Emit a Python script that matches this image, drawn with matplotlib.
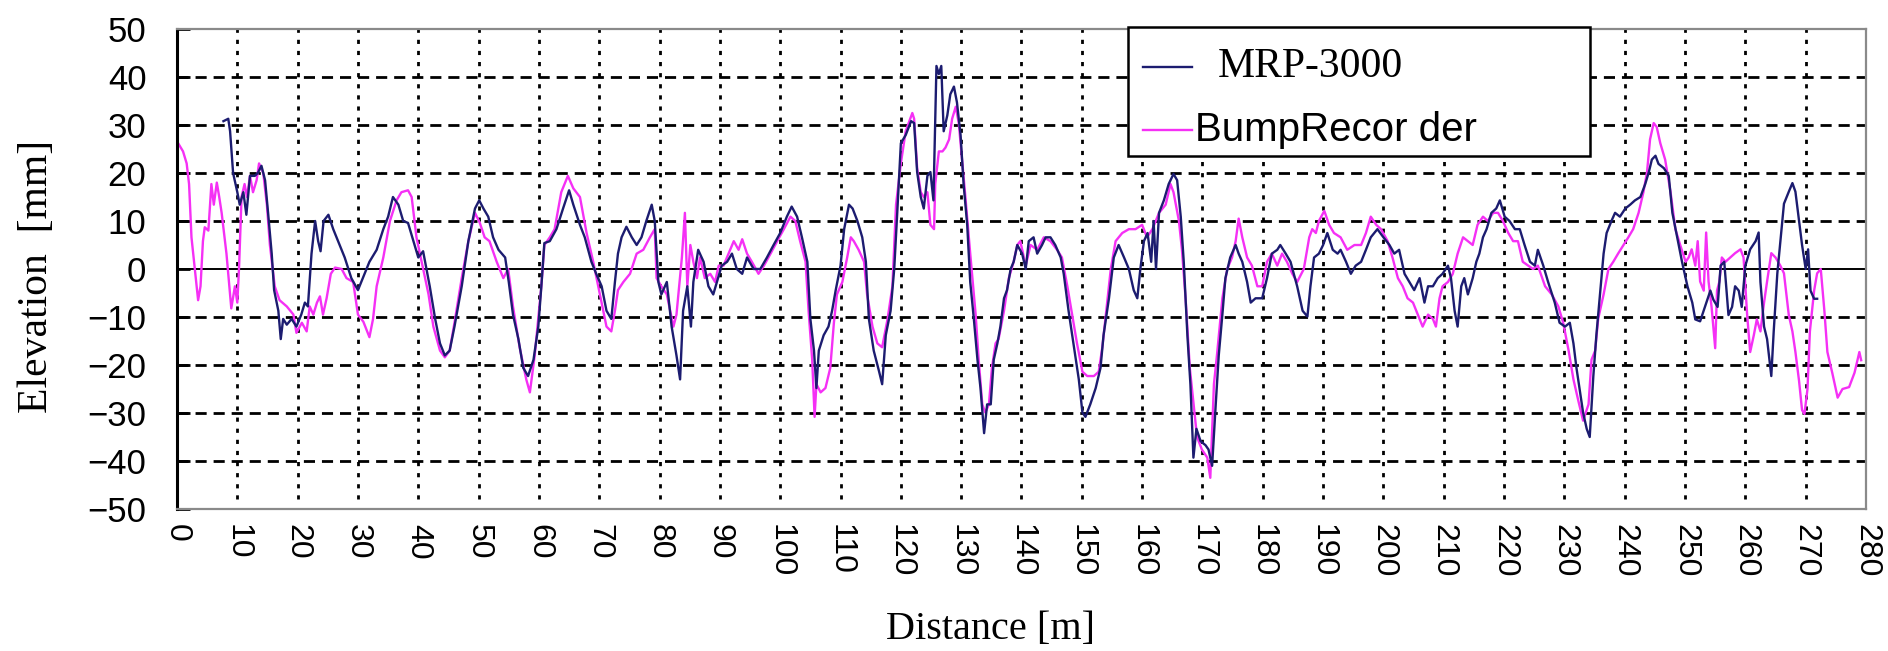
import numpy as np
import matplotlib
matplotlib.use("Agg")
import matplotlib.pyplot as plt
from matplotlib.patches import Rectangle

# %%
# data: distance [m], elevation [mm]

mrp_x = [7.7, 8.5, 8.8, 9.3, 10, 10.4, 11, 11.5, 12.1, 12.9, 13.4, 14, 14.6, 15.1, 15.7, 16.1, 16.8, 17.2, 17.6, 18.2,
         19, 19.8, 20.6, 21.2, 21.7, 22.3, 22.9, 23.4, 23.8, 24.3, 25.1, 25.9, 26.7, 27.8, 28.9, 30, 30.8, 31.9, 33.1, 34.2,
         35, 35.8, 36.7, 37.5, 38.3, 39.2, 40, 40.8, 41.9, 42.8, 43.6, 44.4, 45.2, 46, 47.2, 48.3, 49.4, 50.1, 50.8, 51.6,
         52.4, 53.3, 54.4, 55, 55.7, 56.6, 57.4, 58.2, 59.1, 59.9, 60.4, 60.9, 61.8, 62.9, 64, 65, 65.7, 66.8, 67.6, 68.7,
         69.5, 70.4, 71.2, 72, 72.6, 73.1, 73.7, 74.5, 75.4, 76.2, 77, 77.8, 78.7, 79.2, 79.8, 80.3, 81.2, 82, 82.8, 83.4,
         83.9, 84.6, 85.2, 85.6, 86.4, 87.3, 88.1, 88.9, 89.5, 90.3, 91.2, 92, 92.8, 93.7, 94.5, 95.6, 96.7, 97.8, 98.9, 100,
         101.1, 101.9, 102.8, 103.6, 104.5, 105, 105.6, 106, 106.4, 107.2, 108, 108.6, 109.2, 110, 110.6, 111.4, 112, 112.8, 113.6, 114.2,
         114.7, 115.5, 116.4, 116.9, 117.5, 118.3, 118.9, 119.4, 120, 120.8, 121.7, 122.2, 122.7, 123.3, 123.8, 124.4, 124.9, 125.4, 125.9, 126.3,
         126.7, 127.1, 127.7, 128.2, 128.8, 129.3, 129.9, 130.4, 131, 131.5, 132.1, 132.7, 133.2, 133.8, 134.3, 134.9, 135.4, 136, 136.5, 137.1,
         137.6, 138.2, 138.7, 139.3, 140.1, 140.7, 141.2, 142, 142.6, 143.4, 144, 144.8, 145.6, 146.5, 147, 147.8, 148.7, 149.5, 150.1, 150.6,
         151.4, 152.3, 153.1, 153.6, 154.5, 155.3, 156.1, 157, 157.8, 158.6, 159.2, 159.7, 160.3, 160.9, 161.5, 161.9, 162.3, 162.8, 163.6, 164.4,
         165.2, 165.8, 166.4, 166.9, 167.5, 168, 168.5, 169, 169.7, 170.5, 171, 171.6, 172.2, 172.7, 173.3, 173.8, 174.6, 175.5, 176, 176.6,
         177.4, 178, 178.8, 179.9, 180.7, 181.5, 182.4, 182.9, 183.8, 184.6, 185.7, 186.6, 187.4, 187.9, 188.5, 189.3, 190, 190.7, 191.6, 192.4,
         192.9, 193.8, 194.6, 195.4, 196.3, 197.1, 197.9, 199, 200, 201, 201.8, 202.6, 203.5, 204.3, 205.1, 206, 206.8, 207.4, 208.2, 209,
         209.8, 210.7, 211.2, 211.8, 212.3, 212.9, 213.4, 214, 214.8, 215.4, 215.9, 216.5, 217.1, 217.9, 218.7, 219.3, 220.1, 220.9, 221.8, 222.6,
         223.4, 224.3, 225.1, 225.6, 226.5, 227.3, 228.4, 229.2, 230.1, 230.9, 231.5, 232, 232.6, 233.1, 233.7, 234.2, 234.8, 235.3, 235.9, 236.5,
         237, 237.8, 238.4, 239.2, 240.1, 240.9, 241.7, 242.6, 243.4, 244, 244.5, 245.1, 245.6, 246.5, 247.3, 247.9, 248.7, 249.5, 250.4, 251.2,
         251.7, 252.5, 253.3, 254.2, 254.7, 255.4, 255.9, 256.5, 257.2, 257.8, 258.3, 258.9, 259.4, 260, 260.8, 261.7, 262.2, 262.5, 263.1, 263.6,
         264.3, 264.7, 265.3, 265.8, 266.4, 267.2, 267.8, 268.3, 268.9, 269.4, 270, 270.4, 270.8, 271.4, 271.9]
mrp_y = [30.8, 31.3, 28.7, 20, 16, 13.4, 16, 11.3, 19.4, 19.4, 20, 21.5, 18.5, 11.7, 3.2, -4.4, -8.7, -14.6, -10.4, -11.6,
         -10.4, -12, -9.5, -7, -7.8, 3.2, 10, 5.8, 3.7, 10, 11.3, 8.3, 5.8, 2.4, -1.9, -4.4, -1.9, 1.5, 4, 8.3,
         10.9, 15, 13.4, 10, 9.6, 5.8, 2.4, 3.7, -3.6, -10.4, -15.5, -18, -17, -12, -3.6, 5.8, 12.6, 14.3, 12.6, 10.9,
         6.6, 4, 2.4, -2.7, -9.5, -14.6, -20.6, -22.3, -18.9, -12, -3.6, 5.4, 5.8, 8.3, 12.6, 16.4, 13.4, 9.2, 6.6, 1.5,
         -1, -3.6, -8.7, -10.4, -2.7, 3.2, 6.6, 8.8, 6.6, 5, 6.6, 10, 13.4, 10, -2.7, -5.3, -2.7, -12, -18, -23,
         -8.7, -3.6, -12, -2.7, 4, 1.5, -3.6, -5.3, -2.7, 0.7, 1.5, 3.2, 0, -1, 2.4, 0, 0, 2.4, 5, 7.5,
         10.9, 13, 10.9, 6.6, 1.5, -10.4, -17, -24.8, -17, -13.8, -12, -8.7, -4.4, 0.7, 8.3, 13.4, 12.6, 10, 6.6, 1.5,
         -10.4, -17, -21.4, -24, -13.8, -8.7, 0, 11.7, 26.2, 27.9, 30.8, 30.4, 20.2, 15, 12.6, 19.4, 20.2, 14.3, 42.3, 40.6,
         42.3, 28.7, 32, 36.4, 38, 34.7, 27.9, 17.7, 9.2, -2.7, -10.4, -18.9, -24.8, -34.2, -28.2, -28.2, -18.9, -15.5, -12, -6.1,
         -4.4, 0, 1.5, 5, 3.2, 0, 5.8, 6.6, 3.2, 5, 6.6, 6.6, 5, 2.4, -1, -8.7, -16.3, -23, -29.9, -30.8,
         -28.2, -24.8, -20.6, -13.8, -6.1, 2.4, 5, 2.4, 0, -4.4, -6.1, 0, 5.8, 7.5, 1.5, 10, 0, 11.7, 14.3, 17.7,
         19.8, 18.5, 10.9, 1.5, -13.8, -24, -39.3, -33.3, -35.9, -36.7, -37.6, -41, -28.2, -18, -9.5, -1.9, 2.4, 5, 3.2, 1.5,
         -2.7, -7, -6.1, -6.1, -1.9, 3.2, 4, 5, 3.2, 1.5, -3.6, -8.7, -9.9, -3.6, 2.4, 3.2, 5, 7.5, 4, 3.2,
         4, 1.5, -1, 0.7, 1.5, 4, 6.6, 8.3, 6.6, 5, 3.2, 4, -1, -2.7, -4.4, -1.9, -7, -3.6, -3.6, -1.9,
         -1, 0.7, -1.9, -8.7, -12, -3.6, -1.9, -5.3, -1.9, 1.5, 3.2, 6.6, 8.3, 11.7, 12.6, 14.3, 10.9, 10, 8.3, 8.3,
         5, 1.5, 0.7, 4, 0.7, -2.7, -7, -11.2, -12, -11.2, -15.5, -20.6, -25.7, -29.9, -33.3, -35, -22.3, -13.8, -5.3, 3.2,
         7.5, 10, 11.7, 10.9, 12.6, 13.4, 14.3, 15, 17.7, 20.2, 22.8, 23.6, 21.9, 21, 19.4, 11.7, 6.6, 1.5, -3.6, -7,
         -10.5, -10.9, -7.9, -4.5, -6.4, -7.9, 0.7, 1.5, -9.6, -7.9, -3.6, -4.5, -7.9, 0.7, 4.1, 5.8, 7.6, -2.7, -12, -14.6,
         -22.3, -13, -0.9, 5.8, 13.6, 16.1, 17.9, 16.1, 10.1, 5, 0, 4.1, -4.5, -6.2, -6.2]

bump_x = [0, 1, 1.6, 2, 2.4, 2.7, 3.5, 3.9, 4.3, 4.6, 5.2, 5.7, 6.1, 6.6, 7, 7.4, 8.2, 9, 9.6, 10,
          10.3, 10.7, 11.2, 11.6, 12.1, 12.6, 13.2, 13.6, 14.3, 14.9, 15.4, 16.2, 17, 18.2, 19.3, 19.8, 20.7, 21.5, 22, 22.6,
          23.2, 23.7, 24.2, 24.8, 25.5, 26.2, 27.3, 28.1, 29.2, 30, 30.9, 31.9, 32.5, 33.1, 34.2, 35.3, 36.4, 37.2, 38.3, 38.9,
          39.7, 40.8, 41.7, 42.5, 43.6, 44.4, 45.2, 46, 47.2, 48.3, 49.4, 50.2, 51, 51.8, 53, 54.1, 54.9, 55.7, 56.8, 57.9,
          58.5, 59.3, 60.4, 60.9, 61.8, 62.6, 63.7, 64.8, 65.7, 66.8, 67.9, 69, 70.1, 71.2, 72, 72.6, 73.1, 74, 75.1, 76.2,
          77.3, 78.4, 79.2, 79.5, 80.3, 81.2, 82.3, 82.8, 83.7, 84.2, 84.6, 85.1, 85.6, 86.2, 86.7, 87.5, 88.4, 89.2, 89.8, 90.6,
          91.7, 92.3, 93.1, 93.7, 94.5, 95.3, 96.4, 97.3, 98.4, 99.5, 100.6, 101.7, 102.5, 103.3, 104.2, 104.7, 105.3, 105.7, 106, 106.7,
          107.5, 108.3, 108.9, 109.4, 110.3, 111.1, 111.7, 112.2, 113, 113.9, 114.4, 115.3, 116.1, 116.9, 117.8, 118.6, 119.2, 120, 120.8, 121.9,
          122.2, 122.7, 123.3, 123.8, 124.4, 124.9, 125.5, 125.7, 126.3, 126.9, 127.4, 128, 128.5, 129.1, 129.6, 130.2, 130.7, 131.5, 132.4, 132.9,
          133.5, 134, 134.6, 135.1, 135.7, 136.2, 137.1, 137.9, 138.7, 139.3, 139.8, 140.7, 141.5, 142.6, 143.7, 144.8, 145.9, 146.7, 147.6, 148.4,
          149.2, 150.1, 150.9, 152, 152.8, 153.4, 154.2, 154.8, 155.6, 156.7, 157.8, 158.9, 160, 160.8, 161.7, 162.8, 163.9, 164.7, 165.2, 166.1,
          166.6, 167.2, 167.9, 168.6, 169.1, 169.9, 170.8, 171.3, 171.9, 172.4, 173.3, 174.1, 174.9, 175.5, 176, 176.6, 177.4, 178.2, 179.1, 179.9,
          180.7, 181.5, 182.4, 183.2, 184, 184.9, 185.7, 186.8, 187.7, 188.2, 188.8, 189.3, 190.2, 191, 191.8, 192.9, 194, 195.2, 196.3, 197.1,
          197.9, 198.8, 199.6, 200.7, 201.5, 202.4, 203.2, 204, 204.9, 205.7, 206.5, 207.4, 208.2, 208.7, 209.3, 209.8, 210.7, 211.5, 212.3, 213.2,
          214, 214.8, 215.6, 216.5, 217.3, 218.2, 219, 219.8, 220.7, 221.5, 222.3, 223.1, 224, 224.8, 225.6, 226.8, 227.9, 229, 229.8, 230.7,
          231.5, 232.3, 233.1, 234, 234.5, 235.1, 235.6, 236.5, 237.3, 238.1, 238.9, 239.8, 240.6, 241.4, 242.3, 243.1, 243.7, 244.2, 244.8, 245.3,
          245.9, 246.7, 247.6, 248.4, 249.2, 250.1, 250.6, 251.1, 251.7, 252.1, 252.5, 253.1, 253.5, 253.9, 254.4, 255, 255.3, 255.7, 256.1, 256.7,
          257.5, 258.3, 259.2, 259.7, 260.3, 260.8, 261.4, 261.9, 262.5, 263.1, 263.6, 264.3, 265, 265.8, 266.4, 267.2, 267.8, 268.3, 268.9, 269.4,
          269.8, 270.3, 270.7, 271.4, 271.9, 272.5, 273.1, 273.6, 274.4, 275.3, 276.1, 277.2, 278.1, 278.9, 279.2]
bump_y = [26.6, 24.5, 22, 17.7, 6.6, 3, -6.5, -3.6, 5.8, 8.7, 8, 17.7, 13.4, 18, 15, 11.7, 3.2, -8.2, -3.6, -7,
          0.7, 15, 17.7, 15, 19.4, 16, 18.5, 22, 20, 13.4, 5, -3.6, -6.5, -7.8, -9.5, -13.3, -11.2, -13, -7.8, -9.5,
          -7, -5.7, -9.5, -6.1, -1, 0.3, 0, -1.9, -2.7, -9.5, -11, -14.2, -10.4, -3.6, 2.4, 10, 14.3, 16, 16.4, 15,
          6.6, 0, -5.3, -12, -17, -18.4, -17, -11.2, -1.9, 5.8, 11.7, 9.6, 6.6, 5.8, 1.5, -1.9, 0, -7.8, -16.3, -23,
          -25.7, -18, -3.6, 5, 6.6, 8.3, 16, 19.4, 16.8, 15, 7.5, 1.5, -5.3, -12, -13, -8.7, -4.4, -2.7, -1, 3.2,
          4, 6.6, 8.3, -1.9, -3.6, -5.3, -12, -9.5, 2.4, 11.7, -3.6, 5, 1.5, -1.9, 2.4, -1.9, -1, -2.7, 0.7, 0.7,
          4, 5.8, 4, 6.2, 3.2, 1.5, -1, 0.7, 3.2, 5.8, 8.3, 10.9, 10, 5.8, 1.5, -8.7, -18.9, -30.8, -24, -25.7,
          -24.8, -20.6, -11.2, -5.3, -2.7, 2.4, 6.6, 5.8, 4, 1.5, -5.3, -12, -15.5, -16.3, -10.4, -3.6, 13.4, 22, 28.7, 32.5,
          31.3, 21, 16, 15, 16, 9.2, 8.3, 17.7, 24.5, 24.5, 25.3, 27, 31.3, 33.8, 30.4, 22, 15, 3.2, -9.5, -18.9,
          -28.2, -29.9, -28.2, -20.6, -15.5, -14.6, -8.7, -1.9, 1.5, 5, 5.8, 0.7, 5, 4, 6.6, 5.8, 4, 2.4, -3.6, -9.5,
          -15.5, -21.4, -22.3, -22.3, -21.4, -16.3, -7, 0, 5.8, 7.5, 8.3, 8.3, 9.2, 6.6, 8.3, 11.7, 13.4, 17.7, 16, 10,
          4, -6.1, -20.6, -29, -35, -37.6, -39.3, -43.5, -24, -18, -6.1, 0, 2.4, 5.8, 10.5, 6.6, 2.4, 0.7, -3.6, -3.6,
          1.5, 3.2, 0.7, 3.2, 1.5, -1, -2.7, 0, 6.6, 8.3, 7.5, 10, 12.1, 9.2, 7.5, 6.6, 4, 5, 5, 7.5,
          10.9, 9.2, 8.3, 5.8, 2.4, -1.9, -3.6, -6.1, -7, -9.5, -12, -9.5, -10.4, -12, -6.1, -3.6, -2.7, -1, 3.2, 6.6,
          5.8, 5, 9.2, 10.9, 10, 11.7, 11.7, 10, 7.5, 5.8, 5.8, 1.5, 0.7, 0, 0.7, -3.6, -5.3, -7.8, -11.2, -17,
          -23, -27.4, -31.6, -28.2, -18.9, -17, -10.4, -5.3, 0, 1.5, 3.2, 5, 6.6, 8.3, 11.7, 16, 20.2, 27, 30.4, 29.6,
          26.2, 22.8, 16, 8.3, 5, 1.5, 2.4, 4.1, 0.7, 5.8, -2.6, -4.5, 7.6, -2.6, -7.9, -16.5, -4.5, -2.6, 2.4, 1.5,
          2.4, 3.3, 4.1, 2.4, -9.6, -17.3, -13.8, -10.5, -13, -7, -2.6, 3.3, 2.4, 0.7, -0.9, -9.6, -13, -17.3, -23.3, -29.4,
          -30.2, -25, -13, -4.5, -0.9, 0, -8.7, -17.3, -21.6, -26.8, -25, -24.6, -21.6, -17.3, -19]

x_ticks = np.arange(0, 281, 10)
y_ticks = np.arange(-50, 51, 10)

# %%
# figure

W, H = 1888, 651
fig = plt.figure(figsize=(W/100, H/100), dpi=100)
L, R, T, B = 177, 1866, 29, 509            # axes box in pixels
ax = fig.add_axes([L/W, 1-B/H, (R-L)/W, (B-T)/H])

navy = '#1c1c70'
magenta = '#f530f5'

ax.plot(mrp_x, mrp_y, color=navy, lw=1.7, zorder=3)
ax.plot(bump_x, bump_y, color=magenta, lw=1.7, zorder=2)
ax.axhline(0, color='black', lw=1.4, zorder=1)

ax.set_xlim(0, 280)
ax.set_ylim(-50, 50)
ax.set_xticks(x_ticks)
ax.set_yticks(y_ticks)
ax.set_xticklabels([str(v) for v in x_ticks], rotation=-90, fontfamily='Liberation Sans', fontsize=23)
ax.set_yticklabels([str(v).replace('-', '\u2212') for v in y_ticks], fontfamily='Liberation Sans', fontsize=25)

# dashed grid, vertical lines finer than horizontal
for v in x_ticks[1:-1]:
    ax.axvline(v, ymin=0.02, ymax=1, color='black', lw=2, ls=(0, (1.5, 2.5)), zorder=0)
for v in y_ticks[1:-1]:
    if v != 0:
        ax.axhline(v, color='black', lw=2, ls=(0, (4, 2.5)), zorder=0)

ax.tick_params(axis='x', length=0, pad=11)
ax.tick_params(axis='y', direction='in', length=9, width=2, pad=22)

ax.spines['left'].set_color('black')
ax.spines['left'].set_linewidth(2.2)
for s in ['top', 'right', 'bottom']:
    ax.spines[s].set_color('#8a8a8a')
    ax.spines[s].set_linewidth(1.6)

# legend box drawn by hand (the original box is wider than its text)
def fx(px):
    return (px - L) / (R - L)

def fy(py):
    return (B - py) / (B - T)

ax.add_patch(Rectangle((fx(1128), fy(156)), fx(1590) - fx(1128), fy(27) - fy(156),
                       transform=ax.transAxes, facecolor='white', edgecolor='black', lw=1.8, zorder=5,
                       clip_on=False))
ax.plot([fx(1143), fx(1192)], [fy(67), fy(67)], color=navy, lw=1.7, transform=ax.transAxes, zorder=6)
ax.plot([fx(1143), fx(1192)], [fy(130), fy(130)], color=magenta, lw=1.7, transform=ax.transAxes, zorder=6)
ax.text(fx(1218), fy(67), 'MRP-3000', transform=ax.transAxes, va='center', ha='left',
        fontfamily='Liberation Serif', fontsize=30, zorder=6)
ax.text(fx(1195), fy(130), 'BumpRecor der', transform=ax.transAxes, va='center', ha='left',
        fontfamily='Liberation Sans', fontsize=29, zorder=6)

fig.text(990/W, 1-630/H, 'Distance [m]', ha='center', va='center',
         fontfamily='Liberation Serif', fontsize=29)
fig.text(37/W, 1-276/H, 'Elevation  [mm]', ha='center', va='center', rotation=90,
         fontfamily='Liberation Serif', fontsize=30)

fig.savefig('out.png', dpi=100)
